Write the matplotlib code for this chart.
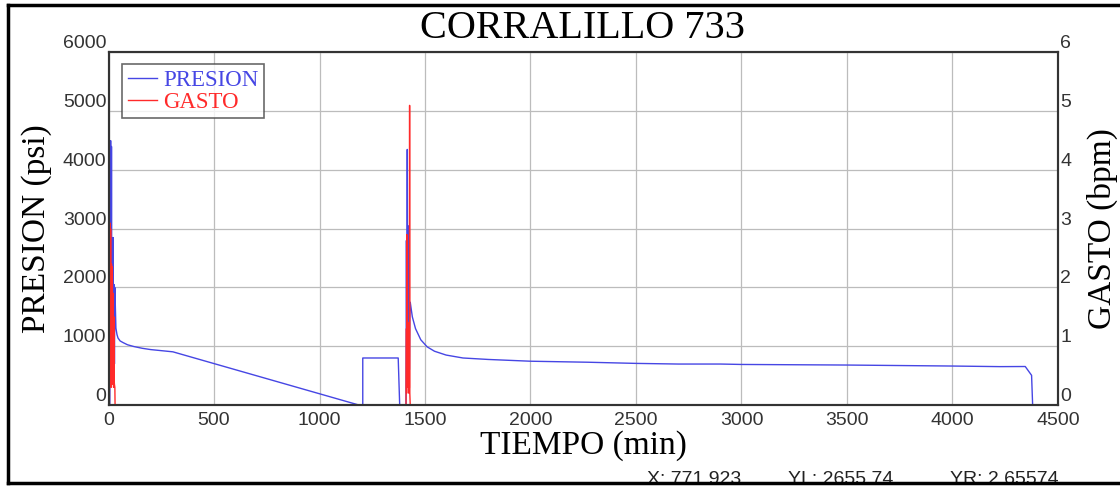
import matplotlib
matplotlib.use("Agg")
import matplotlib.pyplot as plt
from matplotlib.lines import Line2D

# presion (psi) vs tiempo (min)
presion_t = [0, 6, 10, 12, 14, 16, 18, 20, 22, 24, 26, 28, 30, 35, 40, 45, 55, 70, 90,
             120, 160, 200, 250, 305, 1186, 1205, 1205, 1373, 1380, 1410, 1412, 1414,
             1416, 1418, 1420, 1422, 1424, 1426, 1428, 1430, 1432, 1440, 1455, 1480, 1510,
             1545, 1600, 1680, 1800, 2000, 2270, 2500, 2700, 2900, 3000, 3500, 4000, 4225,
             4345, 4375, 4380]
presion = [0, 0, 4500, 600, 4400, 500, 2850, 400, 2850, 500, 2050, 700, 2000, 1310,
           1200, 1140, 1090, 1060, 1025, 995, 965, 943, 925, 905, 0, 0, 800, 800, 0, 0,
           2800, 300, 4350, 500, 3050, 1200, 2500, 600, 1500, 1750, 1700, 1500, 1300,
           1110, 990, 915, 850, 800, 775, 745, 728, 708, 697, 697, 690, 680, 663, 653,
           655, 505, 0]

# gasto (bpm) vs tiempo (min)
gasto_t = [0, 4, 6, 8, 10, 12, 14, 16, 18, 20, 22, 24, 26, 27, 28, 30, 31, 1410, 1412,
           1413, 1414, 1416, 1418, 1420, 1422, 1424, 1426, 1427, 1428, 1430, 4380]
gasto = [0, 0, 3.1, 0.4, 3.0, 0.3, 2.4, 0.35, 2.35, 0.4, 1.9, 0.3, 1.5, 0.4, 0.35, 0.3,
         0, 0, 1.3, 0.2, 2.9, 0.3, 1.2, 0.3, 1.4, 0.2, 0.3, 5.1, 0.2, 0, 0]

x_ticks = [0, 500, 1000, 1500, 2000, 2500, 3000, 3500, 4000, 4500]
yl_ticks = [0, 1000, 2000, 3000, 4000, 5000, 6000]
yr_ticks = [0, 1, 2, 3, 4, 5, 6]

serif = "Liberation Serif"
sans = "Liberation Sans"
blue = "#4646e4"
red = "#ff2a2a"

fig = plt.figure(figsize=(11.2, 4.87), dpi=100)
ax = fig.add_axes([0.0969, 0.1684, 0.8477, 0.7238])
ax2 = ax.twinx()

l1, = ax.plot(presion_t, presion, color=blue, lw=1.0, label="PRESION")
l2, = ax2.plot(gasto_t, gasto, color=red, lw=1.0, label="GASTO")

ax.set_xlim(0, 4500)
ax.set_ylim(0, 6000)
ax2.set_ylim(0, 6)
ax.set_xticks(x_ticks)
ax.set_yticks(yl_ticks)
ax2.set_yticks(yr_ticks)
ax.set_xticklabels([str(v) for v in x_ticks])
ax.set_yticklabels([str(v) for v in yl_ticks])
ax2.set_yticklabels([str(v) for v in yr_ticks])

ax.grid(True, color="#bcbcbc", lw=0.9)
ax.set_axisbelow(True)

ax.tick_params(axis="both", length=0, labelsize=14)
ax.tick_params(axis="x", pad=5)
ax.tick_params(axis="y", pad=1.5)
ax2.tick_params(axis="y", length=0, labelsize=14, pad=1.5)
for lbl in ax.get_xticklabels() + ax.get_yticklabels() + ax2.get_yticklabels():
    lbl.set_fontfamily(sans)
    lbl.set_color("#333333")
for lbl in ax.get_yticklabels() + ax2.get_yticklabels():
    lbl.set_va("bottom")

for a in (ax, ax2):
    for s in a.spines.values():
        s.set_color("#333333")
        s.set_linewidth(1.5)

ax.set_xlabel("TIEMPO (min)", family=serif, fontsize=24, labelpad=1)
ax.set_ylabel("PRESION (psi)", family=serif, fontsize=24, labelpad=8)
ax2.set_ylabel("GASTO (bpm)", family=serif, fontsize=24, labelpad=11)

leg = ax2.legend(handles=[l1, l2], loc="upper left", bbox_to_anchor=(0.014, 0.968),
                 borderaxespad=0, fancybox=False, edgecolor="#444444",
                 prop={"family": serif, "size": 16.5}, labelcolor="linecolor",
                 handlelength=1.3, handletextpad=0.25, borderpad=0.25, labelspacing=0.05)
leg.get_frame().set_linewidth(1.2)

fig.text(583 / 1120, 1 - 28 / 487, "CORRALILLO 733", family=serif, fontsize=29,
         ha="center", va="center")

status_y = 1 - 484 / 487
fig.text(647 / 1120, status_y, "X: 771.923", family=sans, fontsize=14, color="#222222",
         va="baseline")
fig.text(788 / 1120, status_y, "YL: 2655.74", family=sans, fontsize=14, color="#222222",
         va="baseline")
fig.text(950 / 1120, status_y, "YR: 2.65574", family=sans, fontsize=14, color="#222222",
         va="baseline")

# marco exterior
bx, by_top, by_bot = 8 / 1120, 1 - 5 / 487, 1 - 483 / 487
for xs, ys in [([bx, 1], [by_top, by_top]), ([bx, bx], [by_top, by_bot]),
               ([bx, 1], [by_bot, by_bot])]:
    fig.add_artist(Line2D(xs, ys, transform=fig.transFigure, color="black", lw=2.5,
                          zorder=10))

fig.savefig("out.png", dpi=100)
